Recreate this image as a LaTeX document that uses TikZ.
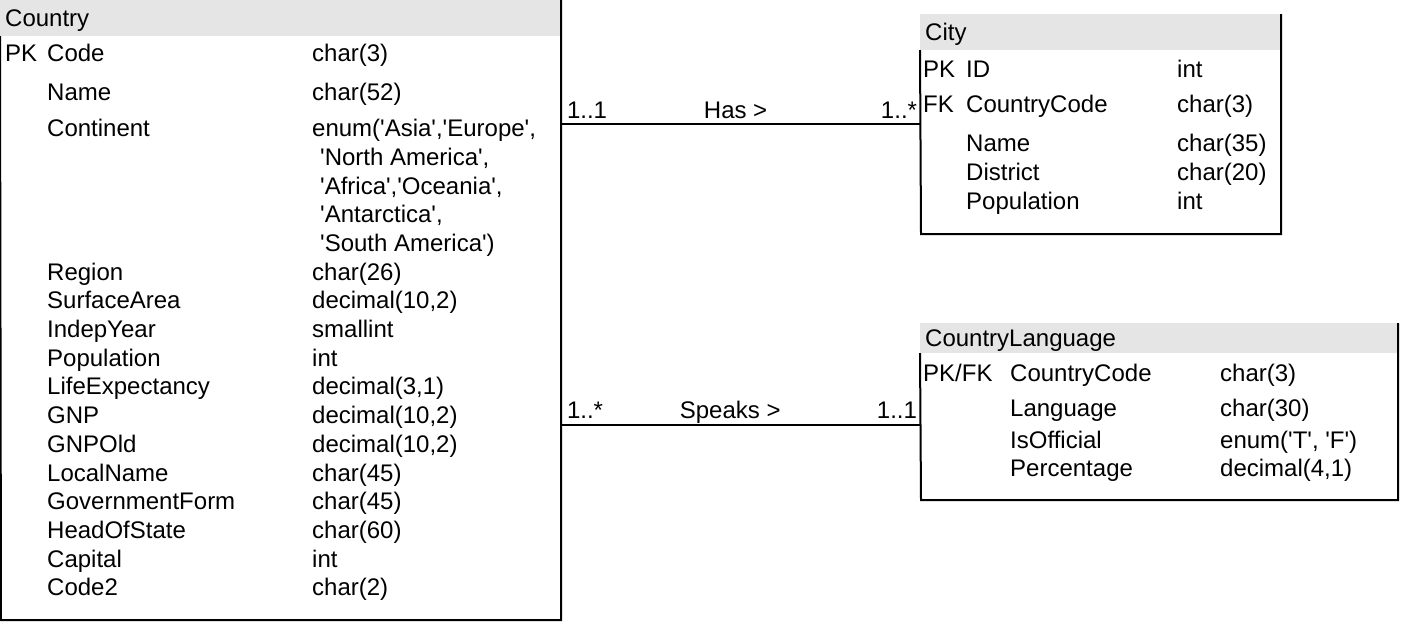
\documentclass[tikz,border=0pt]{standalone}
\usepackage{fontspec}
\setmainfont{Liberation Sans}
\usepackage{tikz}

\newcommand{\qt}{\textquotesingle}

\tikzset{
  tbl/.style={rectangle, anchor=north west, inner sep=0pt, outer sep=0pt},
  hdr/.style={tbl, fill=gray!20},
  border/.style={line width=2pt},
  fld/.style={anchor=base west, inner sep=0pt, font=\fontsize{24}{28.8}\selectfont},
  rel/.style={line width=2pt},
  mult/.style={inner sep=0pt, font=\fontsize{24}{28.8}\selectfont}
}

\begin{document}
\begin{tikzpicture}[x=1pt,y=-1pt]
\useasboundingbox (0,0) rectangle (1402,622);

%% tables
\node[tbl, minimum width=560pt, minimum height=620pt] (country) at (1,0) {};
\node[hdr, minimum width=561pt, minimum height=36pt] (countryhdr) at (0,0) {};
\node[tbl, minimum width=360pt, minimum height=220pt] (city) at (921,14) {};
\node[hdr, minimum width=361pt, minimum height=36pt] (cityhdr) at (920,14) {};
\node[tbl, minimum width=477pt, minimum height=177pt] (lang) at (921,323) {};
\node[hdr, minimum width=478pt, minimum height=30pt] (langhdr) at (920,323) {};

%% borders
\draw[border] (countryhdr.south west) -- (country.south west) -- (country.south east) -- (country.north east);
\draw[border] (cityhdr.south west) -- (city.south west) -- (city.south east) -- (city.north east);
\draw[border] (langhdr.south west) -- (lang.south west) -- (lang.south east) -- (lang.north east);

%% Country
\node[fld] (countrytitle) at (5,26.6) {Country};
\node[fld] (cCodeK) at (5,61.6) {PK};
\node[fld] (cCode) at (47,61.6) {Code};               \node[fld] (cCodeT) at (312,61.6) {char(3)};
\node[fld] (cName) at (47,100.6) {Name};              \node[fld] (cNameT) at (312,100.6) {char(52)};
\node[fld] (cCont) at (47,136.6) {Continent};         \node[fld] (cContT) at (312,136.6) {enum(\qt Asia\qt,\qt Europe\qt,};
\node[fld] (cContA) at (320,165.3) {\qt North America\qt,};
\node[fld] (cContB) at (320,194.0) {\qt Africa\qt,\qt Oceania\qt,};
\node[fld] (cContC) at (320,222.7) {\qt Antarctica\qt,};
\node[fld] (cContD) at (320,251.4) {\qt South America\qt)};
\node[fld] (cRegion) at (47,280.1) {Region};          \node[fld] (cRegionT) at (312,280.1) {char(26)};
\node[fld] (cSurf) at (47,308.8) {SurfaceArea};       \node[fld] (cSurfT) at (312,308.8) {decimal(10,2)};
\node[fld] (cIndep) at (47,337.5) {IndepYear};        \node[fld] (cIndepT) at (312,337.5) {smallint};
\node[fld] (cPop) at (47,366.2) {Population};         \node[fld] (cPopT) at (312,366.2) {int};
\node[fld] (cLife) at (47,394.9) {LifeExpectancy};    \node[fld] (cLifeT) at (312,394.9) {decimal(3,1)};
\node[fld] (cGnp) at (47,423.6) {GNP};                \node[fld] (cGnpT) at (312,423.6) {decimal(10,2)};
\node[fld] (cGnpOld) at (47,452.3) {GNPOld};          \node[fld] (cGnpOldT) at (312,452.3) {decimal(10,2)};
\node[fld] (cLocal) at (47,481.0) {LocalName};        \node[fld] (cLocalT) at (312,481.0) {char(45)};
\node[fld] (cGov) at (47,509.7) {GovernmentForm};     \node[fld] (cGovT) at (312,509.7) {char(45)};
\node[fld] (cHead) at (47,538.4) {HeadOfState};       \node[fld] (cHeadT) at (312,538.4) {char(60)};
\node[fld] (cCap) at (47,567.1) {Capital};            \node[fld] (cCapT) at (312,567.1) {int};
\node[fld] (cCode2) at (47,595.8) {Code2};            \node[fld] (cCode2T) at (312,595.8) {char(2)};

%% City
\node[fld] (citytitle) at (925,40.6) {City};
\node[fld] (yIdK) at (923,77.6) {PK};
\node[fld] (yId) at (966,77.6) {ID};                  \node[fld] (yIdT) at (1177,77.6) {int};
\node[fld] (yCcK) at (923,112.6) {FK};
\node[fld] (yCc) at (966,112.6) {CountryCode};        \node[fld] (yCcT) at (1177,112.6) {char(3)};
\node[fld] (yName) at (966,151.6) {Name};             \node[fld] (yNameT) at (1177,151.6) {char(35)};
\node[fld] (yDist) at (966,180.3) {District};         \node[fld] (yDistT) at (1177,180.3) {char(20)};
\node[fld] (yPop) at (966,209.0) {Population};        \node[fld] (yPopT) at (1177,209.0) {int};

%% CountryLanguage
\node[fld] (langtitle) at (925,346.6) {CountryLanguage};
\node[fld] (lCcK) at (923,381.6) {PK/FK};
\node[fld] (lCc) at (1010,381.6) {CountryCode};       \node[fld] (lCcT) at (1220,381.6) {char(3)};
\node[fld] (lLang) at (1010,416.6) {Language};        \node[fld] (lLangT) at (1220,416.6) {char(30)};
\node[fld] (lOff) at (1010,448.6) {IsOfficial};       \node[fld] (lOffT) at (1220,448.6) {enum(\qt T\qt, \qt F\qt)};
\node[fld] (lPct) at (1010,476.6) {Percentage};       \node[fld] (lPctT) at (1220,476.6) {decimal(4,1)};

%% relations
\coordinate (langin) at (lang.west |- 0,425);
\draw[rel] (country.east |- city.west) -- (city.west)
  node[mult, pos=0, anchor=base west, xshift=5pt, yshift=5.4pt] (has1) {1..1}
  node[mult, pos=0.485, anchor=base, yshift=5.4pt] (has) {Has >}
  node[mult, pos=1, anchor=base east, xshift=-3pt, yshift=5.4pt] (has2) {1..*};
\draw[rel] (country.east |- langin) -- (langin)
  node[mult, pos=0, anchor=base west, xshift=5pt, yshift=6.4pt] (speaks1) {1..*}
  node[mult, pos=0.47, anchor=base, yshift=6.4pt] (speaks) {Speaks >}
  node[mult, pos=1, anchor=base east, xshift=-3pt, yshift=6.4pt] (speaks2) {1..1};
\end{tikzpicture}
\end{document}
